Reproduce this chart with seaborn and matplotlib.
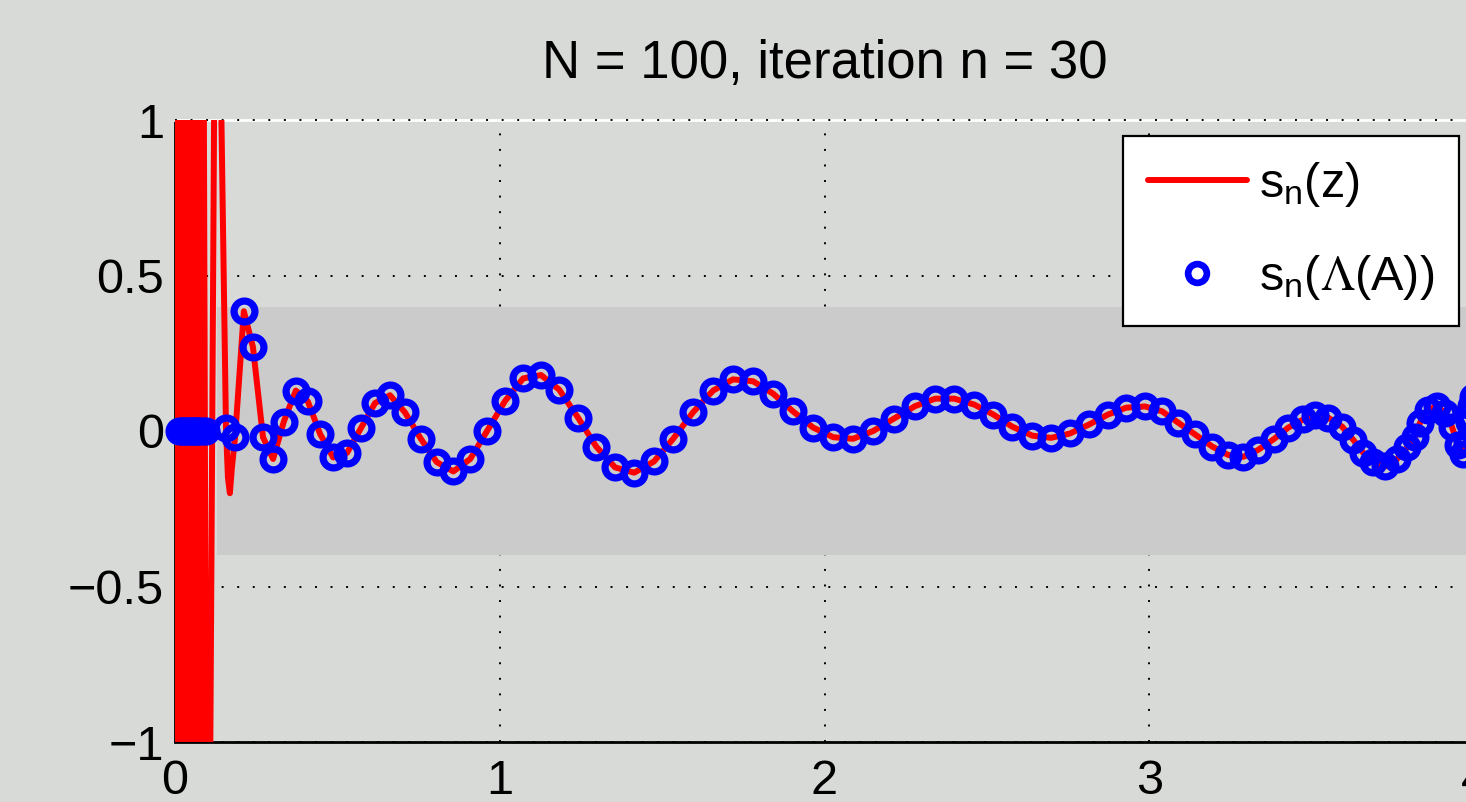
import matplotlib
matplotlib.use("Agg")
import matplotlib.pyplot as plt
from matplotlib.lines import Line2D
import seaborn as sns

# ---------------- data ----------------
title_text = "N = 100, iteration n = 30"
xticks = [0, 1, 2, 3, 4]
xtick_labels = ["0", "1", "2", "3", "4"]
yticks = [-1, -0.5, 0, 0.5, 1]
ytick_labels = ["\u22121", "\u22120.5", "0", "0.5", "1"]

# shaded band
band_x = [0.13, 4.2]
band_lo = -0.4
band_hi = 0.4

# wildly oscillating part of s_n(z) near z = 0 (values exceed the axis range)
wild_x = [0.000, 0.006, 0.014, 0.022, 0.030, 0.038, 0.046, 0.054, 0.062, 0.070,
          0.078, 0.086, 0.098, 0.102, 0.126, 0.132, 0.138, 0.143, 0.150]
wild_y = [-2.0, 2.0, -2.0, 2.0, -2.0, 2.0, -2.0, 2.0, -2.0, 2.0,
          -2.0, 2.0, -2.0, -2.2, 2.0, 2.3, 1.4, 1.0, 0.5]
# the dip right after the oscillations
bend_x = [0.157, 0.163, 0.169, 0.175]
bend_y = [0.01, -0.15, -0.20, -0.12]

# eigenvalues (clustered near 0)
cluster_x = [0.012, 0.018, 0.024, 0.030, 0.036, 0.042, 0.048, 0.054, 0.060, 0.066,
             0.072, 0.078, 0.086, 0.095]
cluster_y = [0.0] * 14

# eigenvalues along the curve, with s_n evaluated there
eig_x = [0.157, 0.185, 0.212, 0.240, 0.271, 0.302, 0.335, 0.372, 0.409, 0.447,
         0.487, 0.530, 0.573, 0.616, 0.662, 0.708, 0.757, 0.806, 0.857, 0.909,
         0.961, 1.016, 1.072, 1.127, 1.183, 1.241, 1.297, 1.355, 1.414, 1.475,
         1.534, 1.595, 1.657, 1.718, 1.780, 1.842, 1.903, 1.965, 2.027, 2.088,
         2.150, 2.214, 2.279, 2.341, 2.400, 2.461, 2.520, 2.578, 2.640, 2.698,
         2.756, 2.815, 2.873, 2.929, 2.987, 3.040, 3.089, 3.141, 3.194, 3.243,
         3.290, 3.335, 3.385, 3.428, 3.474, 3.511, 3.551, 3.594, 3.628, 3.659,
         3.690, 3.727, 3.763, 3.794, 3.819, 3.834, 3.859, 3.886, 3.910, 3.932,
         3.950, 3.966, 3.978, 3.985, 3.992, 3.998]
eig_y = [0.01, -0.02, 0.385, 0.27, -0.02, -0.09, 0.03, 0.13, 0.095, -0.01,
         -0.085, -0.07, 0.01, 0.09, 0.115, 0.06, -0.025, -0.10, -0.13, -0.09,
         0.0, 0.096, 0.169, 0.18, 0.133, 0.043, -0.05, -0.117, -0.134, -0.098,
         -0.025, 0.06, 0.13, 0.166, 0.16, 0.12, 0.063, 0.011, -0.02, -0.025,
         0.0, 0.04, 0.08, 0.104, 0.104, 0.085, 0.053, 0.014, -0.015, -0.022,
         -0.008, 0.021, 0.053, 0.075, 0.079, 0.063, 0.027, -0.011, -0.05, -0.077,
         -0.083, -0.061, -0.025, 0.011, 0.037, 0.05, 0.043, 0.014, -0.028, -0.07,
         -0.10, -0.114, -0.09, -0.053, -0.018, 0.027, 0.069, 0.079, 0.059, 0.014,
         -0.045, -0.075, -0.04, 0.03, 0.08, 0.11]

legend_labels = [r"$\mathregular{s_n(z)}$", r"$\mathregular{s_n(}\Lambda\mathregular{(A))}$"]

# ---------------- style ----------------
BG = "#d8dad7"
BAND = "#cbcbcb"
sns.set_style("white")
plt.rcParams["font.family"] = ["Liberation Sans", "DejaVu Sans"]
plt.rcParams["mathtext.fontset"] = "stix"
plt.rcParams["text.color"] = "black"

MS = 15.0
MEW = 5.2

fig = plt.figure(figsize=(14.66, 8.02), dpi=100, facecolor=BG)
ax = fig.add_axes([175 / 1466, 60 / 802, 1299 / 1466, 622 / 802])
ax.set_facecolor(BG)

# grid
ax.set_axisbelow(True)
ax.grid(True, color="k", linestyle=(0, (1, 7)), linewidth=1.4)

# band
ax.fill_between(band_x, [band_lo, band_lo], [band_hi, band_hi], color=BAND, lw=0, zorder=1)

# red curve: wild part + dip + through evaluated eigenvalues beyond the dip
tail = [(x, y) for x, y in zip(eig_x, eig_y) if x > 0.18]
red_x = wild_x + bend_x + [p[0] for p in tail]
red_y = wild_y + bend_y + [p[1] for p in tail]
sns.lineplot(x=red_x, y=red_y, ax=ax, color="red", lw=4.3, sort=False,
             estimator=None, legend=False, zorder=3)

# blue circles
all_x = cluster_x + eig_x
all_y = cluster_y + eig_y
sns.lineplot(x=all_x, y=all_y, ax=ax, marker="o", linestyle="", color="blue",
             markersize=MS, markerfacecolor="none", markeredgecolor="blue",
             markeredgewidth=MEW, sort=False, estimator=None, legend=False,
             zorder=4, clip_on=False)

ax.set_xlim(0, 4)
ax.set_ylim(-1, 1)
ax.set_xticks(xticks)
ax.set_xticklabels(xtick_labels)
ax.set_yticks(yticks)
ax.set_yticklabels(ytick_labels)
ax.tick_params(direction="in", length=9, width=1, labelsize=35, colors="k",
               labelcolor="k")
ax.tick_params(axis="y", pad=8)
ax.tick_params(axis="x", pad=12)

for s in ["left", "bottom"]:
    ax.spines[s].set_color("k")
ax.spines["left"].set_linewidth(1.3)
ax.spines["bottom"].set_linewidth(2.0)
ax.spines["right"].set_visible(False)
ax.spines["top"].set_color("white")
ax.spines["top"].set_linewidth(2.0)
ax.axhline(1, color="k", linestyle=(0, (1, 7)), linewidth=1.4, zorder=2.6, clip_on=False)

ax.set_title(title_text, fontsize=38, x=0.5, pad=30, color="black")

handles = [Line2D([], [], color="red", lw=4.3),
           Line2D([], [], color="blue", marker="o", linestyle="", markersize=13.5,
                  markerfacecolor="none", markeredgewidth=4.8)]
leg = ax.legend(handles, legend_labels, loc="upper right",
                bbox_to_anchor=(1459 / 1466, 1 - 136 / 802), bbox_transform=fig.transFigure,
                borderaxespad=0, fontsize=35, fancybox=False, framealpha=1,
                facecolor="white", edgecolor="k", handlelength=2.05, handletextpad=0.25,
                borderpad=0.5, labelspacing=0.9)
leg.get_frame().set_linewidth(1.6)
leg.set_zorder(10)
for t in leg.get_texts():
    t.set_color("black")

fig.savefig("out.png", dpi=100, facecolor=BG)
